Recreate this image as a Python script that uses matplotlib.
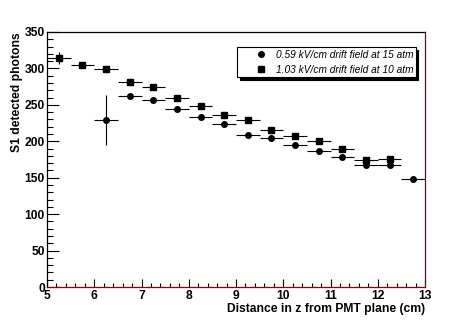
import numpy as np
import matplotlib
matplotlib.use('Agg')
import matplotlib.pyplot as plt
from matplotlib.ticker import MultipleLocator

plt.rcParams['font.family'] = ['Liberation Sans', 'DejaVu Sans']

# 0.59 kV/cm drift field at 15 atm (circles)
z_15atm = [6.25, 6.75, 7.25, 7.75, 8.25, 8.75, 9.25, 9.75, 10.25, 10.75,
           11.25, 11.75, 12.25, 12.75]
s1_15atm = [229, 262, 256, 244, 233, 224, 209, 205, 195, 186, 178, 167,
            167, 148]
err_15atm = [34, 3, 3, 3, 3, 3, 3, 3, 3, 3, 3, 3, 3, 3]

# 1.03 kV/cm drift field at 10 atm (squares)
z_10atm = [5.25, 5.75, 6.25, 6.75, 7.25, 7.75, 8.25, 8.75, 9.25, 9.75,
           10.25, 10.75, 11.25, 11.75, 12.25]
s1_10atm = [314, 305, 299, 282, 274, 260, 249, 236, 229, 216, 207, 201,
            189, 175, 176]
err_10atm = [8.5, 3, 3, 3, 3, 3, 3, 3, 3, 3, 3, 3, 3, 3, 4]

bin_half = 0.25
labels = ['0.59 kV/cm drift field at 15 atm',
          '1.03 kV/cm drift field at 10 atm']

fig = plt.figure(figsize=(4.73, 3.2), dpi=100)
ax = fig.add_axes([47/473, 33/320, 378/473, 255/320])

ax.errorbar(z_15atm, s1_15atm, xerr=bin_half, yerr=err_15atm, fmt='none',
            ecolor='black', elinewidth=0.8, capsize=0)
ax.errorbar(z_10atm, s1_10atm, xerr=bin_half, yerr=err_10atm, fmt='none',
            ecolor='black', elinewidth=0.8, capsize=0)
h1, = ax.plot(z_15atm, s1_15atm, 'o', color='black', ms=4, ls='none')
h2, = ax.plot(z_10atm, s1_10atm, 's', color='black', ms=4, ls='none')

ax.set_xlim(5, 13)
ax.set_ylim(0, 350)
ax.xaxis.set_major_locator(MultipleLocator(1))
ax.xaxis.set_minor_locator(MultipleLocator(0.2))
ax.yaxis.set_major_locator(MultipleLocator(50))
ax.yaxis.set_minor_locator(MultipleLocator(10))
ax.tick_params(axis='both', which='both', direction='in', top=False,
               right=False, width=0.8, labelsize=8.7)
ax.tick_params(axis='y', which='major', length=8.5, pad=1.5)
ax.tick_params(axis='y', which='minor', length=4.3)
ax.tick_params(axis='x', which='major', length=5.8, pad=2)
ax.tick_params(axis='x', which='minor', length=2.9)
for lab in ax.get_xticklabels() + ax.get_yticklabels():
    lab.set_fontweight('bold')

for side in ['left', 'top']:
    ax.spines[side].set_color('black')
for side in ['right', 'bottom']:
    ax.spines[side].set_color('#8b0000')
for sp in ax.spines.values():
    sp.set_linewidth(0.9)

ax.set_xlabel('Distance in z from PMT plane (cm)', fontsize=8.7,
              fontweight='bold', loc='right', labelpad=1)
ax.set_ylabel('S1 detected photons', fontsize=8.7, fontweight='bold',
              loc='top', labelpad=1.5)

leg = ax.legend([h1, h2], labels, loc='upper left',
                bbox_to_anchor=(237/473, 1 - 47/320),
                bbox_transform=fig.transFigure,
                prop={'size': 7.3, 'style': 'italic'},
                frameon=True, fancybox=False, framealpha=1,
                edgecolor='black', handlelength=4.2, handletextpad=-0.64,
                borderpad=0.25, labelspacing=0.5, borderaxespad=0,
                shadow={'color': 'black', 'alpha': 1})
leg.get_frame().set_linewidth(0.8)

fig.savefig('out.png', dpi=100)
